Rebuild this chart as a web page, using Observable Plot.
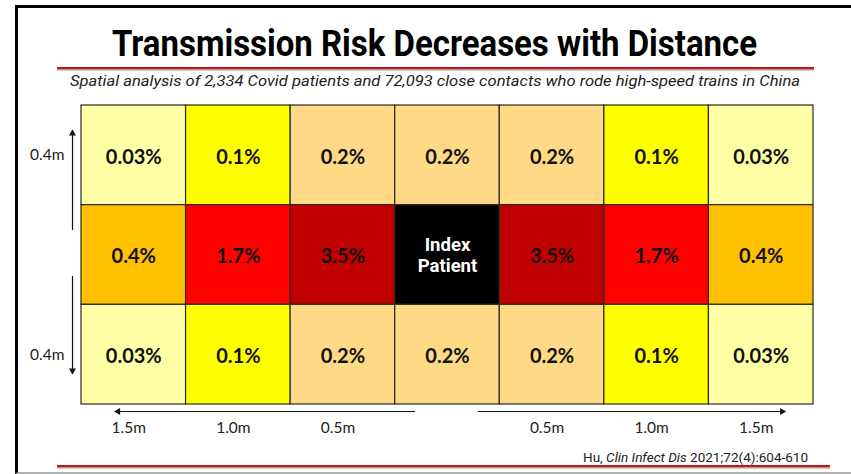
<!DOCTYPE html>
<html>
<head>
<meta charset="utf-8">
<script src="https://cdn.jsdelivr.net/npm/d3@7"></script>
<script src="https://cdn.jsdelivr.net/npm/@observablehq/plot@0.6"></script>
<style>
  html, body { margin: 0; padding: 0; background: #fff; }
  body { width: 851px; height: 474px; position: relative; overflow: hidden; }
  #frame { position: absolute; left: 15px; top: 5px; right: -5px; bottom: 0px;
           border-top: 3px solid #000; border-left: 3px solid #000; border-bottom: 2px solid #b0b0b0; }
  .fit { position: absolute; white-space: nowrap; display: inline-block; }
  #title { left: 112px; top: 24px; font-family: Roboto, "DejaVu Sans", sans-serif; font-weight: bold;
           font-size: 37px; line-height: 40px; color: #000; }
  .redline { position: absolute; height: 2px; background: #d01010; box-shadow: 0 1.5px 1px #999; }
  #subtitle { left: 70px; top: 73px; font-family: Roboto, "DejaVu Sans", sans-serif; font-style: italic;
              font-size: 14.5px; line-height: 18px; color: #222; }
  #caption { left: 583px; top: 450px; font-family: Roboto, "DejaVu Sans", sans-serif;
             font-size: 13px; line-height: 16px; color: #222; }
  #chart { position: absolute; left: 0; top: 95px; }
</style>
</head>
<body>
<div id="frame"></div>
<div id="title" class="fit" data-w="645">Transmission Risk Decreases with Distance</div>
<div class="redline" style="left:57px; width:757px; top:67px;"></div>
<div id="subtitle" class="fit" data-w="730">Spatial analysis of 2,334 Covid patients and 72,093 close contacts who rode high-speed trains in China</div>
<div id="chart"></div>
<div id="caption" class="fit" data-w="225">Hu, <i>Clin Infect Dis</i> 2021;72(4):604-610</div>
<div class="redline" style="left:57px; width:773px; top:465px;"></div>
<script>
// ---- data ----
const columns = [0, 1, 2, 3, 4, 5, 6];
const topRow    = ["0.03%", "0.1%", "0.2%", "0.2%", "0.2%", "0.1%", "0.03%"];
const middleRow = ["0.4%", "1.7%", "3.5%", "Index\nPatient", "3.5%", "1.7%", "0.4%"];
const bottomRow = ["0.03%", "0.1%", "0.2%", "0.2%", "0.2%", "0.1%", "0.03%"];
const riskLevels  = ["0.03%", "0.1%", "0.2%", "0.4%", "1.7%", "3.5%", "Index\nPatient"];
const levelColors = ["#FFFFA6", "#FFFF00", "#FFD985", "#FFC000", "#FF0000", "#C00000", "#000000"];
const distanceLabels = ["1.5m", "1.0m", "0.5m", "", "0.5m", "1.0m", "1.5m"];
const rowDistanceLabels = ["0.4m", "", "0.4m"];

// ---- fit header/caption text widths ----
document.querySelectorAll(".fit").forEach(el => {
  const target = +el.dataset.w;
  const w = el.getBoundingClientRect().width;
  el.style.transformOrigin = "0 50%";
  el.style.transform = `scaleX(${target / w})`;
});

// ---- build table ----
const rowsData = [topRow, middleRow, bottomRow];
const cells = [];
rowsData.forEach((r, ri) => r.forEach((label, ci) => cells.push({row: ri, col: columns[ci], label})));

const colLabels = columns.map((c, i) => ({col: c, label: distanceLabels[i]})).filter(d => d.label);
const rowLabels = rowDistanceLabels.map((label, r) => ({row: r, label})).filter(d => d.label);

// arrows (derived from grid geometry: left side spans rows, bottom spans column groups)
const gx = -0.086;          // just left of first column
const vArrows = [
  {x: gx, y1: 1.25, y2: 0.28, rotate: 0},
  {x: gx, y1: 1.71, y2: 2.66, rotate: 180}
];
const by = 3.07;            // just below last row
const hArrows = [
  {y: by, x1: 3.19, x2: 0.35, rotate: -90},
  {y: by, x1: 3.79, x2: 6.70, rotate: 90}
];

const cellFont = "Lato, 'Open Sans', sans-serif";
const labelFont = "Lato, 'Open Sans', sans-serif";

const plot = Plot.plot({
  width: 851,
  height: 350,
  marginLeft: 81,
  marginRight: 38,
  marginTop: 10,
  marginBottom: 41,
  x: {domain: [0, 7], axis: null},
  y: {domain: [3, 0], axis: null},
  color: {type: "ordinal", domain: riskLevels, range: levelColors},
  marks: [
    Plot.rect(cells, {
      x1: "col", x2: d => d.col + 1, y1: "row", y2: d => d.row + 1,
      fill: "label", stroke: "#2a2a20", strokeWidth: 1.2
    }),
    Plot.text(cells.filter(d => !d.label.startsWith("Index")), {
      x: d => d.col + 0.5, y: d => d.row + 0.5, dy: 2, text: "label",
      fontSize: 20, fontWeight: "bold", fontFamily: cellFont, fill: "#111"
    }),
    Plot.text(cells.filter(d => d.label.startsWith("Index")), {
      x: d => d.col + 0.5, y: d => d.row + 0.5, text: "label",
      fontSize: 18.5, fontWeight: "bold", lineHeight: 1.15,
      fontFamily: "Roboto, sans-serif", fill: "#fff"
    }),
    // left vertical arrows
    Plot.link(vArrows, {x1: "x", x2: "x", y1: "y1", y2: "y2", stroke: "#111", strokeWidth: 1.2}),
    Plot.dot(vArrows, {x: "x", y: "y2", symbol: "triangle", r: 2.6, fill: "#111", stroke: null, rotate: "rotate"}),
    // bottom horizontal arrows
    Plot.link(hArrows, {x1: "x1", x2: "x2", y1: "y", y2: "y", stroke: "#111", strokeWidth: 1.2}),
    Plot.dot(hArrows, {x: "x2", y: "y", symbol: "triangle", r: 2.6, fill: "#111", stroke: null, rotate: "rotate"}),
    // distance labels
    Plot.text(colLabels, {
      x: d => d.col + 0.5, y: 3, dy: 24, dx: -5, text: "label",
      fontSize: 15.5, fontFamily: labelFont, fill: "#222"
    }),
    Plot.text(rowLabels, {
      x: 0, y: d => d.row + 0.5, dx: -17, text: "label", textAnchor: "end",
      fontSize: 15.5, fontFamily: labelFont, fill: "#222"
    })
  ]
});
document.getElementById("chart").appendChild(plot);
</script>
</body>
</html>
